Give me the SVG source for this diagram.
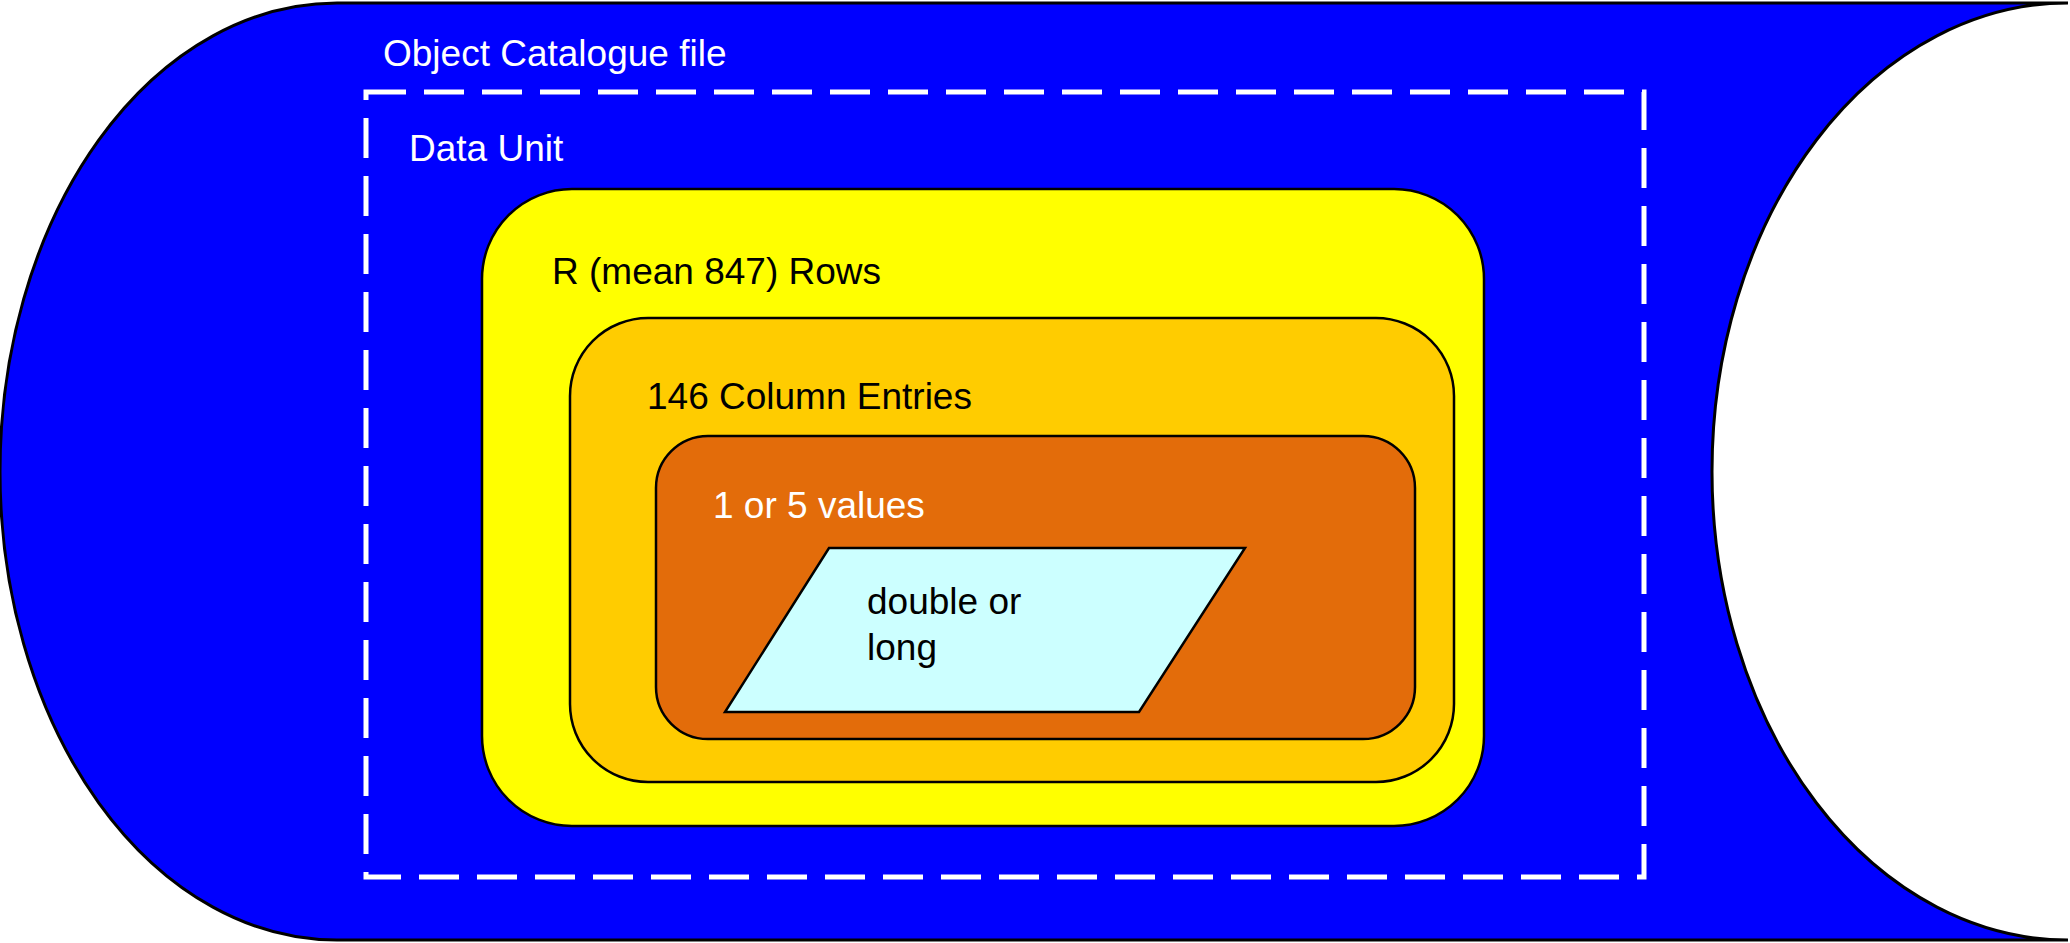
<svg xmlns="http://www.w3.org/2000/svg" width="2070" height="943" viewBox="0 0 2070 943">
<style>
text{font-family:"Liberation Sans",Arial,sans-serif;font-size:37px}
.w{fill:#fff}.k{fill:#000}
.box{stroke:#000;stroke-width:2.5}
</style>
<g id="file">
<path d="M337,3 H2068 A356,468.5 0 0 0 2068,940 H337 A337,468.5 0 0 1 337,3 Z" fill="#0000ff" stroke="#000" stroke-width="3"/>
<text class="w" x="383" y="66">Object Catalogue file</text>
</g>
<g id="dataunit">
<rect x="366" y="92" width="1278" height="785" fill="none" stroke="#fff" stroke-width="5" stroke-dasharray="40,18"/>
<text class="w" x="409" y="161">Data Unit</text>
</g>
<g id="rows">
<rect class="box" x="482" y="189" width="1002" height="637" rx="90" fill="#ffff00"/>
<text class="k" x="552" y="284">R (mean 847) Rows</text>
</g>
<g id="columns">
<rect class="box" x="570" y="318" width="884" height="464" rx="78" fill="#ffcc00"/>
<text class="k" x="647" y="409">146 Column Entries</text>
</g>
<g id="values">
<rect class="box" x="656" y="436" width="759" height="303" rx="52" fill="#e36c0a"/>
<text class="w" x="713" y="518">1 or 5 values</text>
</g>
<g id="type">
<polygon class="box" points="829,548 1245,548 1139,712 725,712" fill="#ccffff"/>
<text class="k" x="867" y="614">double or</text>
<text class="k" x="867" y="660">long</text>
</g>
<g id="connectors"/>
</svg>
